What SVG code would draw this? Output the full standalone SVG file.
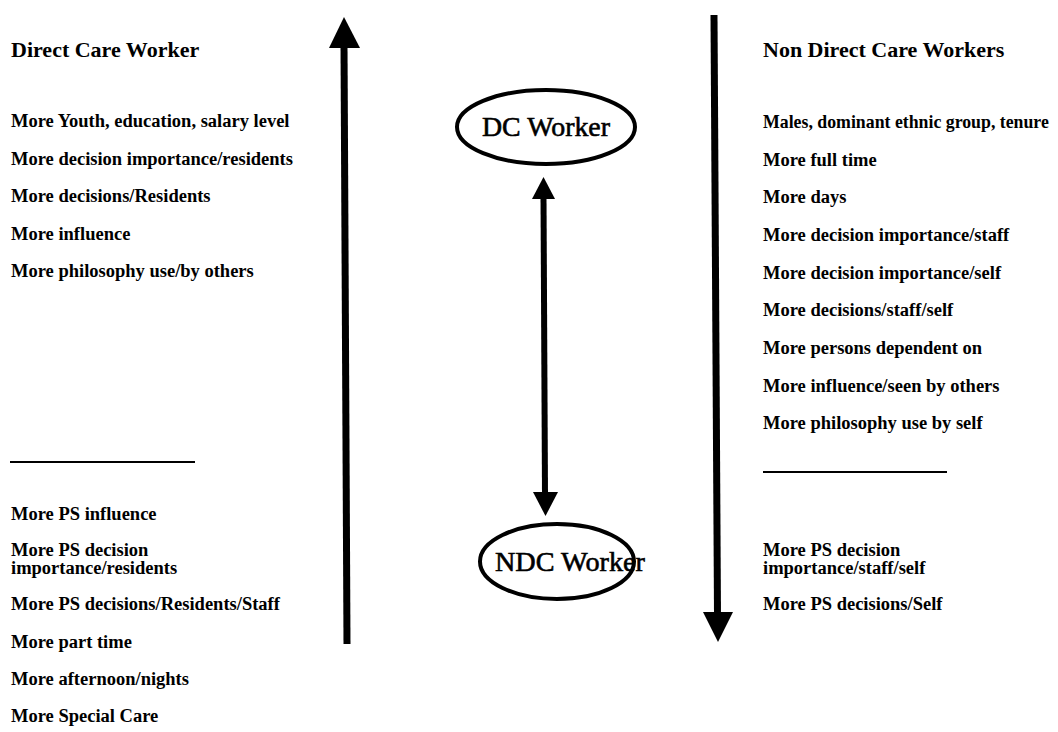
<svg xmlns="http://www.w3.org/2000/svg" width="1058" height="732" viewBox="0 0 1058 732">
<style>
text{font-family:"Liberation Serif","Times New Roman",serif;font-weight:bold;fill:#000}
.h{font-size:22px}
.b{font-size:18.5px}
.bs{font-size:17.8px}
.node{font-size:28px;font-weight:normal;stroke:#000;stroke-width:0.6}
.shaft{stroke:#000;fill:none}
.rule{stroke:#000;stroke-width:2}
.ell{fill:none;stroke:#000;stroke-width:4}
</style>
<rect width="1058" height="732" fill="#fff"/>
<g id="connectors">
<line class="shaft" x1="344" y1="44" x2="347" y2="644" stroke-width="7"/>
<polygon points="344,17 329,48 360,48"/>
<line class="shaft" x1="714" y1="15" x2="717.5" y2="615" stroke-width="7"/>
<polygon points="718,642 703,612 733,612"/>
<line class="shaft" x1="543.5" y1="196" x2="545" y2="494" stroke-width="6"/>
<polygon points="543.5,177 532,199 555,199"/>
<polygon points="545.5,516 533,492 558,492"/>
</g>
<g id="dc-worker">
<ellipse class="ell" cx="546" cy="127" rx="89" ry="37"/>
<text class="node" x="482" y="136" textLength="128" lengthAdjust="spacingAndGlyphs">DC Worker</text>
</g>
<g id="ndc-worker">
<ellipse class="ell" cx="557" cy="561.5" rx="77" ry="37.5"/>
<text class="node" x="495" y="571" textLength="150" lengthAdjust="spacingAndGlyphs">NDC Worker</text>
</g>
<g id="left-list">
<text class="h" x="11" y="57">Direct Care Worker</text>
<text class="b" x="11" y="127">More Youth, education, salary level</text>
<text class="b" x="11" y="165">More decision importance/residents</text>
<text class="b" x="11" y="202">More decisions/Residents</text>
<text class="b" x="11" y="240">More influence</text>
<text class="b" x="11" y="277">More philosophy use/by others</text>
<line class="rule" x1="10" y1="462" x2="195" y2="462"/>
<text class="b" x="11" y="520">More PS influence</text>
<text class="b" x="11" y="556">More PS decision</text>
<text class="b" x="11" y="574">importance/residents</text>
<text class="b" x="11" y="610">More PS decisions/Residents/Staff</text>
<text class="b" x="11" y="648">More part time</text>
<text class="b" x="11" y="685">More afternoon/nights</text>
<text class="b" x="11" y="722">More Special Care</text>
</g>
<g id="right-list">
<text class="h" x="763" y="57">Non Direct Care Workers</text>
<text class="bs" x="763" y="128">Males, dominant ethnic group, tenure</text>
<text class="b" x="763" y="166">More full time</text>
<text class="b" x="763" y="203">More days</text>
<text class="b" x="763" y="241">More decision importance/staff</text>
<text class="b" x="763" y="279">More decision importance/self</text>
<text class="b" x="763" y="316">More decisions/staff/self</text>
<text class="b" x="763" y="354">More persons dependent on</text>
<text class="b" x="763" y="392">More influence/seen by others</text>
<text class="b" x="763" y="429">More philosophy use by self</text>
<line class="rule" x1="763" y1="472" x2="947" y2="472"/>
<text class="b" x="763" y="556">More PS decision</text>
<text class="b" x="763" y="574">importance/staff/self</text>
<text class="b" x="763" y="610">More PS decisions/Self</text>
</g>
</svg>
